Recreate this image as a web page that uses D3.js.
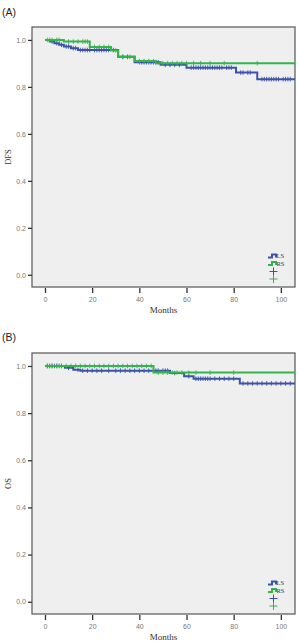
<!DOCTYPE html>
<html>
<head>
<meta charset="utf-8">
<script src="https://cdn.jsdelivr.net/npm/d3@7"></script>
<style>
  html, body { margin: 0; padding: 0; background: #fff; }
  svg { display: block; }
</style>
</head>
<body>
<svg id="chart" width="298" height="644"></svg>
<script>
// ---------------- data ----------------
const monthTicks = [0, 20, 40, 60, 80, 100];
const survTicks = [0.0, 0.2, 0.4, 0.6, 0.8, 1.0];
const groups = ["LS", "RS"];
const panelLabels = ["(A)", "(B)"];
const yTitles = ["DFS", "OS"];
const followUpEnd = 106;

// [month, survival after event]
const dfsLS = [[0, 1], [2, 0.993], [4, 0.986], [6, 0.979], [8, 0.972], [11, 0.965], [14, 0.957],
  [31, 0.928], [38, 0.905], [49, 0.894], [60, 0.882], [81, 0.861], [90, 0.833]];
const dfsRS = [[0, 1], [8, 0.993], [19, 0.97], [28, 0.955], [31, 0.928], [38, 0.91], [47, 0.901]];
const osLS = [[0, 1], [8.5, 0.992], [12, 0.984], [15, 0.98], [53, 0.97], [59, 0.956], [63, 0.946], [82.6, 0.926]];
const osRS = [[0, 1], [46, 0.972]];

// censored times
const dfsLSCens = [3, 5, 7, 9, 10, 12, 13, 15, 16, 17, 18, 19, 21, 22, 23, 24, 25, 26, 27, 29, 33, 35, 40, 41, 42,
  43, 44, 45, 46, 47, 48, 51, 53, 55, 57, 62, 63, 64, 65, 66, 67, 68, 69, 70, 71, 72, 73, 74, 75, 77, 78, 79,
  83, 84, 86, 87, 92, 93, 94, 95, 96, 97, 98, 99, 101, 102, 103, 104];
const dfsRSCens = [1, 2, 3, 5, 6, 10, 12, 14, 16, 17, 18, 21, 23, 25, 27, 30, 33, 36, 40, 42, 44, 46, 50, 52, 54,
  56, 58, 60, 63, 66, 70, 76, 90];
const osLSCens = [1, 2, 3, 4, 5, 6, 7, 10, 14, 16, 18, 20, 22, 24, 27, 30, 32, 34, 36, 38, 40, 42, 44, 47, 48, 50,
  51, 52, 55, 61, 64, 65, 66, 67, 68, 69, 70, 72, 74, 76, 78, 80, 84, 86, 88, 90, 92, 94, 96, 98, 100, 102, 104];
const osRSCens = [1, 2, 3, 5, 7, 9, 11, 13, 15, 17, 19, 21, 23, 25, 27, 29, 31, 33, 35, 37, 39, 41, 43, 45, 48,
  50, 52, 54, 56, 58, 61, 64, 70, 80];

const colors = { LS: "#3d52aa", RS: "#33b54c" };

// ---------------- layout ----------------
const panels = [
  { top: 27, bottom: 287, labelY: 16, steps: [dfsLS, dfsRS], cens: [dfsLSCens, dfsRSCens] },
  { top: 353, bottom: 614, labelY: 341, steps: [osLS, osRS], cens: [osLSCens, osRSCens] }
];
const left = 32, right = 295;

const svg = d3.select("#chart");

function survAt(steps, t) {
  let s = steps[0][1];
  steps.forEach(d => { if (d[0] <= t) s = d[1]; });
  return s;
}

panels.forEach((p, i) => {
  const x = d3.scaleLinear().domain([-5.5, 106]).range([left, right]);
  const y = d3.scaleLinear().domain([-0.052, 1.055]).range([p.bottom, p.top]);

  const g = svg.append("g");

  g.append("text")
    .attr("x", 2).attr("y", p.labelY)
    .attr("font-family", "Liberation Sans, Arial, sans-serif")
    .attr("font-size", 10.5).attr("fill", "#222")
    .text(panelLabels[i]);

  g.append("rect")
    .attr("x", left).attr("y", p.top)
    .attr("width", right - left).attr("height", p.bottom - p.top)
    .attr("fill", "#efefef").attr("stroke", "#555").attr("stroke-width", 1.2);

  // y axis
  const yAxis = g.append("g").attr("transform", `translate(${left},0)`)
    .call(d3.axisLeft(y).tickValues(survTicks).tickFormat(d3.format(".1f")).tickSize(4).tickPadding(2));
  yAxis.select(".domain").remove();
  yAxis.selectAll("line").attr("stroke", "#333").attr("stroke-width", 1.3);
  yAxis.selectAll("text").attr("font-family", "Liberation Sans, Arial, sans-serif")
    .attr("font-size", 7).attr("fill", "#777");

  // x axis
  const xAxis = g.append("g").attr("transform", `translate(0,${p.bottom + 1})`)
    .call(d3.axisBottom(x).tickValues(monthTicks).tickSize(5).tickPadding(4));
  xAxis.select(".domain").remove();
  xAxis.selectAll("line").attr("stroke", "#333").attr("stroke-width", 1.3);
  xAxis.selectAll("text").attr("font-family", "Liberation Sans, Arial, sans-serif")
    .attr("font-size", 7).attr("fill", "#777");

  g.append("text")
    .attr("x", (left + right) / 2).attr("y", p.bottom + 26)
    .attr("text-anchor", "middle")
    .attr("font-family", "Liberation Serif, Times New Roman, serif")
    .attr("font-size", 9).attr("fill", "#333")
    .text("Months");

  g.append("text")
    .attr("transform", `translate(11,${(p.top + p.bottom) / 2}) rotate(-90)`)
    .attr("text-anchor", "middle")
    .attr("font-family", "Liberation Serif, Times New Roman, serif")
    .attr("font-size", 8.5).attr("fill", "#333")
    .text(yTitles[i]);

  // curves
  const line = d3.line().x(d => x(d[0])).y(d => y(d[1])).curve(d3.curveStepAfter);
  groups.forEach((grp, k) => {
    const steps = p.steps[k];
    const pts = steps.concat([[followUpEnd, steps[steps.length - 1][1]]]);
    const clr = colors[grp];
    g.append("path")
      .attr("d", line(pts))
      .attr("fill", "none").attr("stroke", clr).attr("stroke-width", 2);
    g.selectAll(null)
      .data(p.cens[k])
      .enter().append("line")
      .attr("x1", d => x(d)).attr("x2", d => x(d))
      .attr("y1", d => y(survAt(steps, d)) - 2.3)
      .attr("y2", d => y(survAt(steps, d)) + 2.3)
      .attr("stroke", clr).attr("stroke-width", 0.9);
  });

  // legend
  const lx = 268;
  groups.forEach((grp, k) => {
    const ly = p.bottom - 31 + k * 7.5;
    g.append("path")
      .attr("d", `M${lx},${ly + 1.5}H${lx + 4}V${ly - 1.5}H${lx + 8}V${ly + 1.5}`)
      .attr("fill", "none").attr("stroke", colors[grp]).attr("stroke-width", 2);
    g.append("text")
      .attr("x", lx + 8.5).attr("y", ly + 2.2)
      .attr("font-family", "Liberation Serif, Times New Roman, serif")
      .attr("font-size", 6.5).attr("fill", "#333")
      .text(grp);
  });
  groups.forEach((grp, k) => {
    const cy = p.bottom - 15.5 + k * 7.5;
    const cx = 273.5;
    g.append("line").attr("x1", cx - 4).attr("x2", cx + 4).attr("y1", cy).attr("y2", cy)
      .attr("stroke", colors[grp]).attr("stroke-width", 1);
    g.append("line").attr("x1", cx).attr("x2", cx).attr("y1", cy - 4).attr("y2", cy + 4)
      .attr("stroke", colors[grp]).attr("stroke-width", 1);
  });
});
</script>
</body>
</html>
